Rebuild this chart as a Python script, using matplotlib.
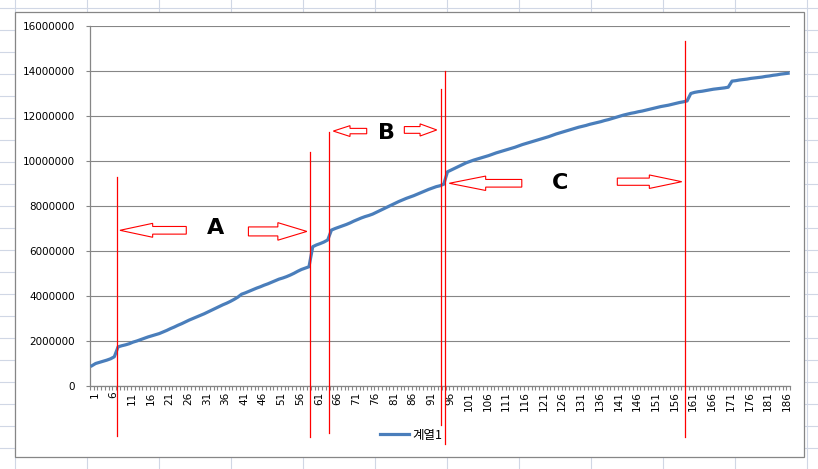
import numpy as np
import matplotlib

matplotlib.use("Agg")
import matplotlib.pyplot as plt  # noqa: E402
from matplotlib.patches import Polygon, Rectangle  # noqa: E402
from matplotlib.transforms import ScaledTranslation  # noqa: E402

plt.rcParams["font.family"] = ["DejaVu Sans", "Noto Sans CJK KR"]

# cumulative series (values in millions)
values_m = [
    0.90, 1.00, 1.05, 1.10, 1.15, 1.21, 1.30, 1.74, 1.79, 1.83,        # 1-10
    1.88, 1.95, 2.00, 2.06, 2.12, 2.18, 2.23, 2.28, 2.33, 2.40,        # 11-20
    2.47, 2.55, 2.62, 2.70, 2.77, 2.85, 2.93, 3.00, 3.07, 3.14,        # 21-30
    3.21, 3.29, 3.37, 3.45, 3.53, 3.61, 3.68, 3.76, 3.85, 3.95,        # 31-40
    4.08, 4.14, 4.21, 4.28, 4.35, 4.41, 4.48, 4.54, 4.61, 4.68,        # 41-50
    4.75, 4.80, 4.86, 4.93, 5.01, 5.10, 5.18, 5.24, 5.30, 6.19,        # 51-60
    6.27, 6.33, 6.40, 6.49, 6.93, 7.00, 7.06, 7.12, 7.18, 7.25,        # 61-70
    7.33, 7.40, 7.47, 7.53, 7.58, 7.64, 7.72, 7.80, 7.88, 7.96,        # 71-80
    8.04, 8.12, 8.20, 8.27, 8.34, 8.40, 8.46, 8.53, 8.60, 8.67,        # 81-90
    8.74, 8.80, 8.86, 8.90, 8.97, 9.52, 9.60, 9.68, 9.76, 9.84,        # 91-100
    9.92, 9.98, 10.04, 10.09, 10.14, 10.19, 10.24, 10.30, 10.36, 10.41,  # 101-110
    10.46, 10.51, 10.56, 10.61, 10.67, 10.73, 10.78, 10.83, 10.88, 10.93,  # 111-120
    10.98, 11.03, 11.08, 11.14, 11.20, 11.25, 11.30, 11.35, 11.40, 11.45,  # 121-130
    11.50, 11.54, 11.58, 11.63, 11.67, 11.71, 11.75, 11.80, 11.84, 11.89,  # 131-140
    11.94, 11.99, 12.04, 12.08, 12.12, 12.15, 12.19, 12.22, 12.26, 12.30,  # 141-150
    12.34, 12.38, 12.42, 12.45, 12.48, 12.52, 12.56, 12.60, 12.63, 12.67,  # 151-160
    13.00, 13.05, 13.08, 13.10, 13.13, 13.16, 13.19, 13.21, 13.23, 13.25,  # 161-170
    13.28, 13.55, 13.57, 13.60, 13.62, 13.64, 13.67, 13.69, 13.71, 13.73,  # 171-180
    13.76, 13.78, 13.81, 13.83, 13.86, 13.88, 13.90,                      # 181-187
]
series_name = "계열1"
y_ticks = [0, 2000000, 4000000, 6000000, 8000000, 10000000, 12000000, 14000000, 16000000]
label_step = 5

# hand-drawn red guides (category position, top, bottom in millions)
guide_lines = [(7.79, 9.27, -2.21), (59.19, 10.41, -2.28), (64.43, 11.30, -2.10),
               (94.19, 13.20, -1.73), (95.42, 14.00, -2.58), (159.53, 15.33, -2.28)]
# block arrows: tail, head base, tip, centre, head half-height, shaft half-height
block_arrows = [(26.22, 17.24, 8.51, 6.92, 0.31, 0.17),
                (42.82, 50.68, 58.43, 6.87, 0.39, 0.20),
                (74.42, 69.96, 65.50, 11.33, 0.24, 0.12),
                (84.47, 88.67, 93.13, 11.38, 0.27, 0.15),
                (115.85, 106.2, 96.48, 9.01, 0.32, 0.17),
                (141.37, 149.92, 158.58, 9.08, 0.30, 0.16)]
section_labels = [("A", 33.9, 7.01), ("B", 79.8, 11.23), ("C", 126.0, 9.01)]

W, H = 818, 469
fig = plt.figure(figsize=(W / 100, H / 100), dpi=100)

# --- spreadsheet cells behind the chart object ---
bg = fig.add_axes([0, 0, 1, 1])
bg.set_xlim(0, W)
bg.set_ylim(H, 0)
bg.axis("off")
for k in range(-1, 11):
    bg.axvline(86.7 + 72 * k, color="#d0d7e5", lw=0.8, zorder=1)
for k in range(-1, 21):
    bg.axhline(30 + 22.02 * k, color="#d0d7e5", lw=0.8, zorder=1)
bg.add_patch(Rectangle((15, 12), 789, 445, facecolor="white", edgecolor="#868686",
                       lw=0.9, zorder=5))

# --- line chart ---
ax = fig.add_axes([90 / W, (H - 386) / H, 700 / W, 360 / H], zorder=2)
ax.set_facecolor("none")
x = np.arange(1, len(values_m) + 1)
y = np.array(values_m) * 1e6
line, = ax.plot(x, y, color="#4a7ebb", lw=2.3, solid_joinstyle="round", zorder=3)

ax.set_xlim(0.5, len(values_m) + 0.5)
ax.set_ylim(y_ticks[0], y_ticks[-1])
ax.set_yticks(y_ticks)
ax.set_yticklabels([str(v) for v in y_ticks])
ax.grid(axis="y", color="#868686", lw=0.8)
ax.set_axisbelow(True)

lab = x[::label_step]
ax.set_xticks(lab)
ax.set_xticklabels([str(v) for v in lab], rotation=90, va="top", ha="center")
ax.set_xticks(np.arange(0.5, len(values_m) + 1), minor=True)
ax.tick_params(axis="x", which="major", length=0, pad=4, labelsize=7.5)
ax.tick_params(axis="x", which="minor", length=3, color="#868686", width=0.8)
ax.tick_params(axis="y", length=3, color="#868686", width=0.8, pad=8, labelsize=7.5)
# Excel draws the rotated labels a touch right of the category centre
shift = ScaledTranslation(2.5 / 100, 0, fig.dpi_scale_trans)
for t in ax.get_xticklabels():
    t.set_transform(t.get_transform() + shift)
for s in ("top", "right"):
    ax.spines[s].set_visible(False)
for s in ("left", "bottom"):
    ax.spines[s].set_color("#868686")
    ax.spines[s].set_linewidth(0.9)

# --- red guides, arrows and section letters ---
for cx, top, bot in guide_lines:
    ax.plot([cx, cx], [top * 1e6, bot * 1e6], color="#ff0000", lw=0.9, clip_on=False, zorder=5)
for tail, base, tip, yc, hh, sh in block_arrows:
    pts = [(tail, yc - sh), (base, yc - sh), (base, yc - hh), (tip, yc),
           (base, yc + hh), (base, yc + sh), (tail, yc + sh)]
    pts = [(px, py * 1e6) for px, py in pts]
    ax.add_patch(Polygon(pts, closed=True, facecolor="white", edgecolor="#ff0000",
                         lw=0.8, clip_on=False, zorder=5))
for txt, cx, cy in section_labels:
    ax.text(cx, cy * 1e6, txt, fontsize=16, fontweight="bold", ha="center", va="center", zorder=6)

fig.legend(handles=[line], labels=[series_name], loc="center",
           bbox_to_anchor=(411.5 / W, 1 - 435 / H), frameon=False,
           handlelength=2.3, handletextpad=0.3,
           prop={"family": ["Noto Sans CJK KR"], "size": 9})

fig.savefig("out.png", dpi=100)
